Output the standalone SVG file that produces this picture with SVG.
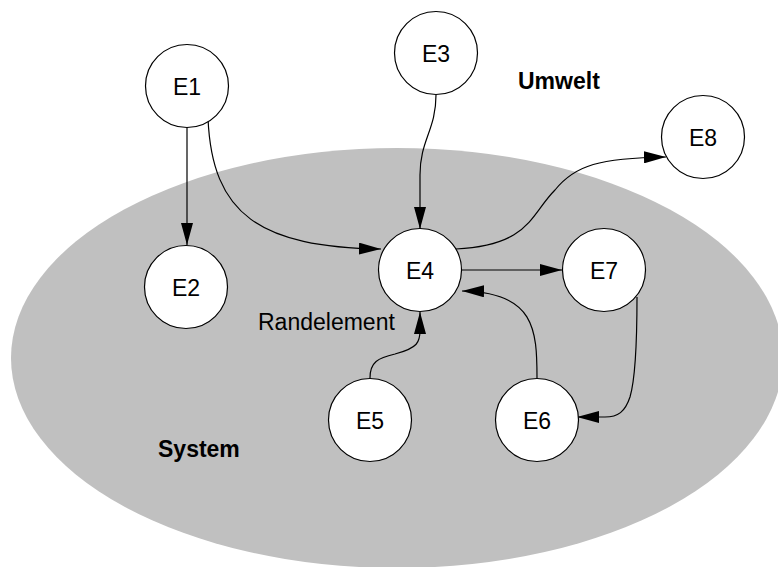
<svg xmlns="http://www.w3.org/2000/svg" width="778" height="567" viewBox="0 0 778 567">
  <style>
    .node circle { fill: #ffffff; stroke: #000000; stroke-width: 1.2; }
    .node text { font-family: "Liberation Sans", Arial, sans-serif; font-size: 23px; fill: #000000; text-anchor: middle; }
    .label { font-family: "Liberation Sans", Arial, sans-serif; font-size: 23px; fill: #000000; }
    .bold { font-weight: bold; }
    .edge { fill: none; stroke: #000000; stroke-width: 1.2; marker-end: url(#arrow); }
  </style>
  <defs>
    <marker id="arrow" markerUnits="userSpaceOnUse" markerWidth="22" markerHeight="12" refX="22" refY="6" orient="auto">
      <path d="M0,0 L22,6 L0,12 Z" fill="#000000"/>
    </marker>
  </defs>

  <rect x="0" y="0" width="778" height="567" fill="#ffffff"/>

  <!-- system boundary -->
  <ellipse id="system" cx="397" cy="358" rx="386" ry="210" fill="#c0c0c0"/>

  <text class="label bold" x="518" y="89">Umwelt</text>
  <text class="label bold" x="158" y="457">System</text>
  <text class="label" x="258" y="330">Randelement</text>

  <g id="connectors">
    <path class="edge" d="M187,127 L187,245"/>
    <path class="edge" d="M208,118 C212,215 260,247 381,249"/>
    <path class="edge" d="M436,95 C436,130 420,140 420,175 L420,229"/>
    <path class="edge" d="M456,249 C530,245 530,215 555,190 C575,165 600,158 666,157"/>
    <path class="edge" d="M462,270 L562,270"/>
    <path class="edge" d="M537,378 C537,330 535,292 462,291"/>
    <path class="edge" d="M637,297 C637,350 635,380 630,397 C625,412 618,417 605,417 L577,417"/>
    <path class="edge" d="M370,378 C370,362 378,358 395,354 C418,348 420,342 420,330 L420,312"/>
  </g>

  <g id="E1" class="node"><circle cx="187" cy="86" r="41.5"/><text x="187" y="94.5">E1</text></g>
  <g id="E2" class="node"><circle cx="186" cy="287" r="41.5"/><text x="186" y="295.5">E2</text></g>
  <g id="E3" class="node"><circle cx="436" cy="53" r="41.5"/><text x="436" y="61.5">E3</text></g>
  <g id="E4" class="node"><circle cx="420" cy="270" r="41.5"/><text x="420" y="278.5">E4</text></g>
  <g id="E5" class="node"><circle cx="370" cy="420" r="41.5"/><text x="370" y="428.5">E5</text></g>
  <g id="E6" class="node"><circle cx="537" cy="420" r="41.5"/><text x="537" y="428.5">E6</text></g>
  <g id="E7" class="node"><circle cx="604" cy="270" r="41.5"/><text x="604" y="278.5">E7</text></g>
  <g id="E8" class="node"><circle cx="703" cy="137" r="41.5"/><text x="703" y="145.5">E8</text></g>
</svg>
